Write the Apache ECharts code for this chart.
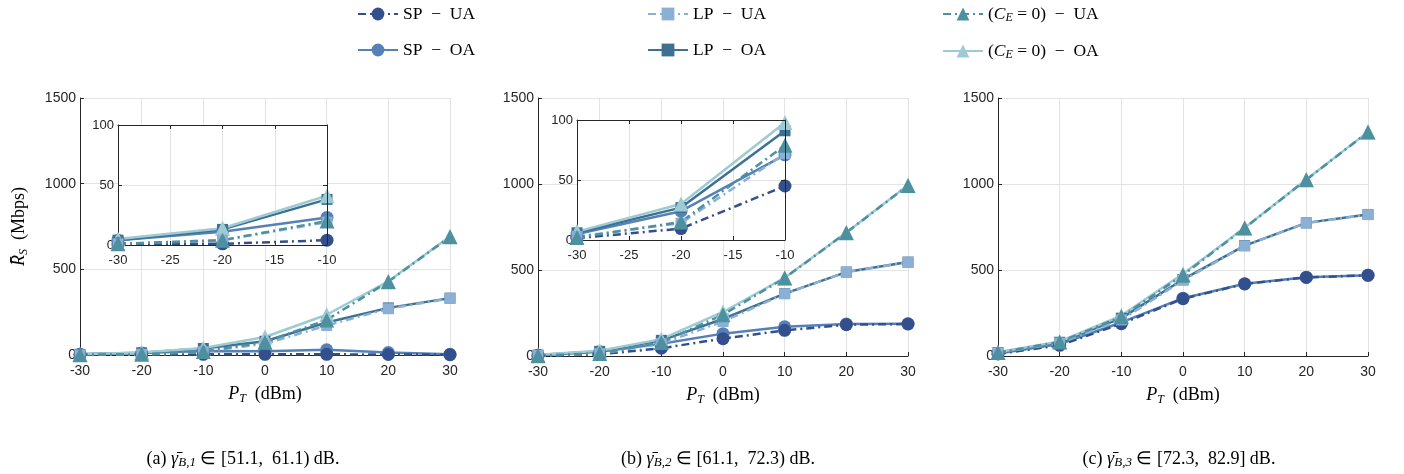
<!DOCTYPE html>
<html>
<head>
<meta charset="utf-8">
<script src="https://cdn.jsdelivr.net/npm/echarts@6/dist/echarts.min.js"></script>
<style>
  html, body { margin: 0; padding: 0; background: #fff; }
  #main { width: 1404px; height: 474px; }
</style>
</head>
<body>
<div id="main"></div>
<script>
// transmit power (dBm)
var PT = [-30, -20, -10, 0, 10, 20, 30];
var INSET_N = 3; // insets show -30..-10

var xTicksMain = [-30, 30, 10];
var yTicksMain = [0, 1500, 500];
var xTicksInset = [-30, -10, 5];
var yTicksInset = [0, 100, 50];

var names = ['SP − UA', 'SP − OA', 'LP − UA', 'LP − OA', '(C_E = 0) − UA', '(C_E = 0) − OA'];

// (a) gamma in [51.1, 61.1)
var a_SP_UA = [1, 1, 4, 4, 4, 3, 2];
var a_SP_OA = [4, 11, 23, 22, 30, 14, 4];
var a_LP_UA = [1, 4, 19, 65, 172, 270, 330];
var a_LP_OA = [4, 13, 38, 80, 190, 275, 332];
var a_CE_UA = [1, 4, 20, 75, 205, 428, 690];
var a_CE_OA = [5, 14, 41, 105, 235, 430, 692];

// (b) gamma in [61.1, 72.3)
var b_SP_UA = [1.5, 9.5, 45, 101, 149, 182, 186];
var b_SP_OA = [5, 24, 71, 130, 170, 186, 187];
var b_LP_UA = [3, 14, 72, 200, 362, 488, 545];
var b_LP_OA = [6, 27, 91, 215, 363, 488, 546];
var b_CE_UA = [2, 15, 79, 240, 453, 717, 992];
var b_CE_OA = [7, 30, 98, 256, 455, 718, 993];

// (c) gamma in [72.3, 82.9]
var c_SP_UA = [12, 62, 188, 333, 419, 457, 469];
var c_SP_OA = [15, 70, 195, 336, 420, 458, 470];
var c_LP_UA = [18, 75, 210, 440, 640, 773, 822];
var c_LP_OA = [20, 80, 220, 445, 642, 774, 823];
var c_CE_UA = [20, 82, 228, 470, 744, 1025, 1302];
var c_CE_OA = [22, 85, 235, 478, 746, 1026, 1303];

var colors = ['#34508c', '#5581b8', '#8cb0d4', '#3e7191', '#4d909f', '#9dcbd4'];
var symbols = ['circle', 'circle', 'rect', 'rect', 'triangle', 'triangle'];
var symSizes = [13, 13, 11, 11, 15, 15];
var dashDot = [8, 4, 2, 4];

var SERIF = 'Liberation Serif';
var SANS = 'Liberation Sans';
var AXC = '#262626';

var chartDom = document.getElementById('main');
var myChart = echarts.init(chartDom);

function pairs(ys, n) {
  var out = [];
  for (var i = 0; i < n; i++) out.push([PT[i], ys[i]]);
  return out;
}

var mainGrids = [
  { left: 80, top: 98, width: 370, height: 257 },
  { left: 538, top: 98, width: 370, height: 258 },
  { left: 998, top: 98, width: 370, height: 258 }
];
var insetGrids = [
  { left: 118, top: 125, width: 209, height: 120 },
  { left: 577, top: 120, width: 208, height: 120 }
];

var grids = [], xAxes = [], yAxes = [], series = [];
var nameRich = {
  i: { fontFamily: SERIF, fontSize: 18, fontStyle: 'italic', color: '#000' },
  sub: { fontFamily: SERIF, fontSize: 12, fontStyle: 'italic', color: '#000', padding: [9, 0, 0, 0] }
};

function addAxes(isInset, withYName) {
  var xt = isInset ? xTicksInset : xTicksMain;
  var yt = isInset ? yTicksInset : yTicksMain;
  var idx = grids.length - 1;
  xAxes.push({
    type: 'value', gridIndex: idx, min: xt[0], max: xt[1], interval: xt[2],
    axisLine: { onZero: false, lineStyle: { color: AXC, width: 1 } },
    axisTick: { inside: true, length: 4, lineStyle: { color: AXC } },
    splitLine: { show: true, lineStyle: { color: '#e3e3e3', width: 1 } },
    axisLabel: { color: AXC, fontFamily: SANS, fontSize: isInset ? 13 : 14, margin: 9 },
    name: isInset ? '' : '{i|P}{sub|T}  (dBm)',
    nameLocation: 'middle', nameGap: 29,
    nameTextStyle: { fontFamily: SERIF, fontSize: 18, color: '#000', rich: nameRich },
    z: isInset ? 6 : 2
  });
  yAxes.push({
    type: 'value', gridIndex: idx, min: yt[0], max: yt[1], interval: yt[2],
    axisLine: { show: true, onZero: false, lineStyle: { color: AXC, width: 1 } },
    axisTick: { show: true, inside: true, length: 4, lineStyle: { color: AXC } },
    splitLine: { show: true, lineStyle: { color: '#e3e3e3', width: 1 } },
    axisLabel: {
      color: AXC, fontFamily: SANS, fontSize: isInset ? 13 : 14, margin: 4,
      formatter: function (v) { return String(v); }
    },
    name: withYName ? '{i|R̄}{sub|S}  (Mbps)' : '',
    nameLocation: 'middle', nameGap: 50, nameRotate: 90,
    nameTextStyle: { fontFamily: SERIF, fontSize: 18, color: '#000', rich: nameRich },
    z: isInset ? 6 : 2
  });
  return xAxes.length - 1;
}

function addSeries(idx, sets, n, z) {
  // draw OA first, UA on top
  var order = [1, 3, 5, 0, 2, 4];
  order.forEach(function (k) {
    var ua = (k % 2 === 0);
    series.push({
      name: names[k], type: 'line', xAxisIndex: idx, yAxisIndex: idx,
      data: pairs(sets[k], n),
      symbol: symbols[k], symbolSize: symSizes[k],
      itemStyle: { color: colors[k] },
      lineStyle: { color: colors[k], width: 2.5, type: ua ? dashDot : 'solid' },
      animation: false, silent: true, z: z
    });
  });
}

var panelSets = [
  [a_SP_UA, a_SP_OA, a_LP_UA, a_LP_OA, a_CE_UA, a_CE_OA],
  [b_SP_UA, b_SP_OA, b_LP_UA, b_LP_OA, b_CE_UA, b_CE_OA],
  [c_SP_UA, c_SP_OA, c_LP_UA, c_LP_OA, c_CE_UA, c_CE_OA]
];

// main panels
mainGrids.forEach(function (g, p) {
  grids.push(Object.assign({ containLabel: false }, g));
  var idx = addAxes(false, p === 0);
  addSeries(idx, panelSets[p], PT.length, 3);
});
// insets (drawn on top, white background)
var insetGridIdx = [];
insetGrids.forEach(function (g, p) {
  grids.push(Object.assign({
    containLabel: false, show: true, backgroundColor: '#fff',
    borderWidth: 0, z: 5
  }, g));
  insetGridIdx.push(grids.length - 1);
  var idx = addAxes(true, false);
  addSeries(idx, panelSets[p], INSET_N, 7);
});
// box lines (top / right) for insets
insetGridIdx.forEach(function (gi) {
  xAxes.push({
    type: 'value', gridIndex: gi, position: 'top', min: xTicksInset[0], max: xTicksInset[1], interval: xTicksInset[2],
    axisLine: { onZero: false, lineStyle: { color: AXC, width: 1 } },
    axisTick: { inside: true, length: 4, lineStyle: { color: AXC } },
    axisLabel: { show: false }, splitLine: { show: false }, z: 8
  });
  yAxes.push({
    type: 'value', gridIndex: gi, position: 'right', min: yTicksInset[0], max: yTicksInset[1], interval: yTicksInset[2],
    axisLine: { show: true, onZero: false, lineStyle: { color: AXC, width: 1 } },
    axisTick: { show: true, inside: true, length: 4, lineStyle: { color: AXC } },
    axisLabel: { show: false }, splitLine: { show: false }, z: 8
  });
});

function legendFmt(name) {
  if (name.indexOf('C_E') >= 0) {
    return name.replace('(C_E = 0)', '({i|C}{sub|E} = 0)').replace(' − ', '  −  ');
  }
  return name.replace(' − ', '  −  ');
}

var legendLeft = [352, 642, 937];
var legends = legendLeft.map(function (lx, c) {
  return {
    orient: 'vertical', left: lx, top: 0, itemGap: 18,
    itemWidth: 40, itemHeight: 16,
    data: [names[c * 2], names[c * 2 + 1]],
    formatter: legendFmt,
    selectedMode: false,
    textStyle: {
      fontFamily: SERIF, fontSize: 17.5, color: '#000',
      rich: {
        i: { fontFamily: SERIF, fontSize: 17.5, fontStyle: 'italic', color: '#000' },
        sub: { fontFamily: SERIF, fontSize: 12, fontStyle: 'italic', color: '#000', padding: [8, 0, 0, 0] }
      }
    }
  };
});

var capRich = {
  g: { fontFamily: SERIF, fontSize: 18, fontStyle: 'italic', fill: '#000' },
  sub: { fontFamily: SERIF, fontSize: 13, fontStyle: 'italic', fill: '#000', padding: [8, 0, 0, 0] }
};
var captions = [
  { x: 243, text: '(a) {g|γ̄}{sub|B,1} ∈ [51.1,  61.1) dB.' },
  { x: 718, text: '(b) {g|γ̄}{sub|B,2} ∈ [61.1,  72.3) dB.' },
  { x: 1179, text: '(c) {g|γ̄}{sub|B,3} ∈ [72.3,  82.9] dB.' }
];

var option = {
  backgroundColor: '#fff',
  animation: false,
  legend: legends,
  grid: grids,
  xAxis: xAxes,
  yAxis: yAxes,
  series: series,
  graphic: captions.map(function (c) {
    return {
      type: 'text', x: c.x, y: 459,
      style: {
        text: c.text, fontFamily: SERIF, fontSize: 18, fill: '#000',
        align: 'center', verticalAlign: 'middle', rich: capRich
      }
    };
  })
};

option && myChart.setOption(option);
</script>
</body>
</html>
